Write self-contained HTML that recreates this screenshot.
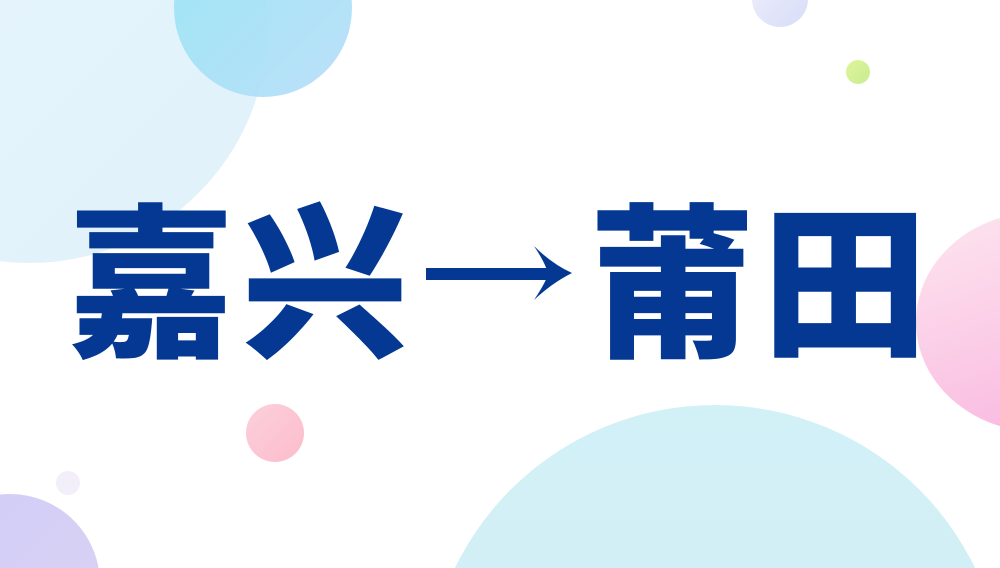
<!DOCTYPE html>
<html><head><meta charset="utf-8"><style>
html,body{margin:0;padding:0;width:1000px;height:568px;overflow:hidden}
body{background:#fff}
#w{position:relative;width:1000px;height:568px;overflow:hidden}
.c{position:absolute;border-radius:50%}
.t{position:absolute;top:205px;font-family:"Liberation Sans","Noto Sans CJK SC",sans-serif;font-weight:900;font-size:166px;line-height:1;color:#043893}
</style></head><body><div id="w">
<div class="c" style="left:-208px;top:-213px;width:476px;height:476px;background:linear-gradient(135deg,#eaf7fc,#dff1fb)"></div>
<div class="c" style="left:174px;top:-81px;width:178px;height:178px;background:linear-gradient(135deg,#98e6f4,#b9def8);opacity:.95"></div>
<div class="c" style="left:752px;top:-29px;width:56px;height:56px;background:linear-gradient(135deg,#eef0fb,#d8dcf8)"></div>
<div class="c" style="left:846px;top:60px;width:24px;height:24px;background:linear-gradient(135deg,#dff59a,#c8ec92)"></div>
<div class="c" style="left:916px;top:212px;width:248px;height:220px;background:linear-gradient(160deg,#fde6ef,#f9b2de)"></div>
<div class="c" style="left:246px;top:404px;width:58px;height:58px;background:linear-gradient(135deg,#fdd0dc,#fbbccb)"></div>
<div class="c" style="left:56px;top:471px;width:24px;height:24px;background:#f3effa"></div>
<div class="c" style="left:-80px;top:494px;width:180px;height:180px;background:linear-gradient(135deg,#cfcdf7,#dcd2f4)"></div>
<div class="c" style="left:426px;top:405px;width:578px;height:578px;background:linear-gradient(180deg,#d2f1f7,#d3e8f3)"></div>
<div class="t" style="left:68px">嘉</div>
<div class="t" style="left:242px">兴</div>
<svg style="position:absolute;left:0;top:0" width="1000" height="568">
<rect x="426" y="268" width="124" height="12" fill="#043893"/>
<path d="M534 246 Q552 264 572 273 Q552 283 534 300 Q546 282 548 274 Q546 264 534 246Z" fill="#043893"/>
</svg>
<div class="t" style="left:589px">莆</div>
<div class="t" style="left:762px">田</div>
</div></body></html>
